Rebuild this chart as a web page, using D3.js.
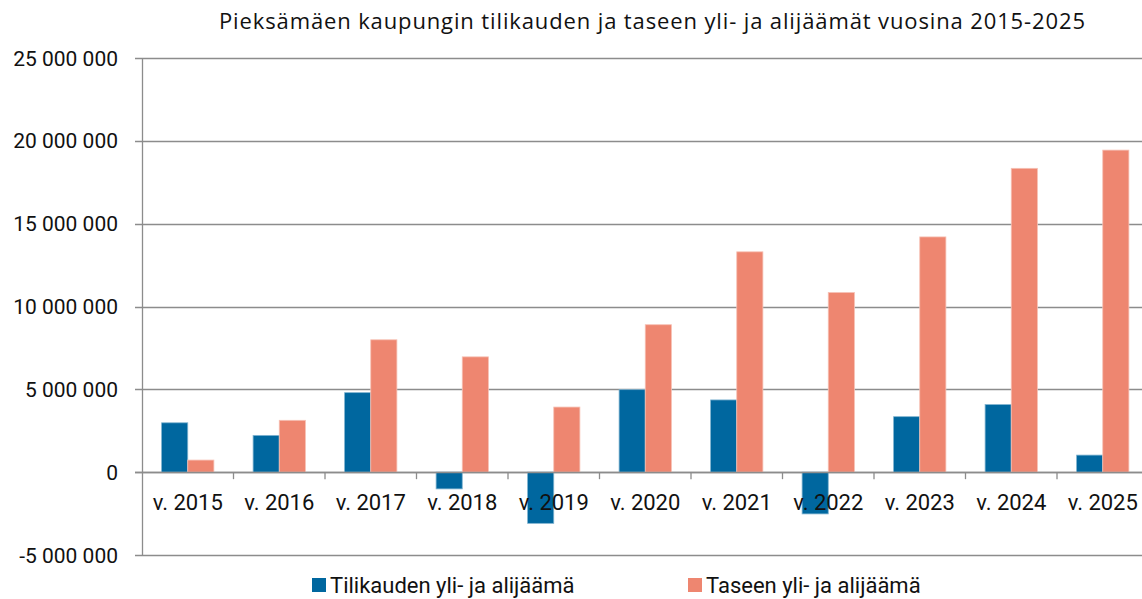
<!DOCTYPE html>
<html lang="fi">
<head>
  <meta charset="utf-8">
  <title>Pieksämäen kaupungin yli- ja alijäämät</title>
  <script src="https://d3js.org/d3.v7.min.js"></script>
  <style>
    html, body { margin: 0; padding: 0; background: #fff; }
    svg { display: block; }
    text { font-family: Roboto, "Liberation Sans", sans-serif; fill: #111; }
    .title { font-family: "Open Sans", sans-serif; }
  </style>
</head>
<body>
  <svg width="1142" height="599"></svg>
  <script>
    // Data
    const years = ["v. 2015", "v. 2016", "v. 2017", "v. 2018", "v. 2019", "v. 2020",
                   "v. 2021", "v. 2022", "v. 2023", "v. 2024", "v. 2025"];
    const tilikausi = [2980000, 2220000, 4800000, -1010000, -3090000, 4980000,
                       4360000, -2520000, 3350000, 4080000, 1030000];
    const tase = [730000, 3130000, 7990000, 6960000, 3930000, 8900000,
                  13300000, 10840000, 14200000, 18340000, 19440000];
    const seriesNames = ["Tilikauden yli- ja alijäämä", "Taseen yli- ja alijäämä"];
    const colors = ["#00679f", "#ee8670"];
    const yTicks = [-5000000, 0, 5000000, 10000000, 15000000, 20000000, 25000000];

    const svg = d3.select("svg");
    const plotL = 142, plotR = 1148.5, plotT = 58, plotB = 555;

    const x = d3.scaleBand().domain(years).range([plotL, plotR]);
    const gap = 1.5; // gap width relative to bar width
    const barW = x.bandwidth() / (2 + gap);
    const y = d3.scaleLinear().domain([-5000000, 25000000]).range([plotB, plotT]);

    const fmt = v => d3.format(",")(v).replace(/,/g, " ").replace("−", "-");

    // title
    svg.append("text")
      .attr("class", "title")
      .attr("x", 652).attr("y", 29)
      .attr("text-anchor", "middle")
      .attr("textLength", 866)
      .attr("lengthAdjust", "spacing")
      .style("font-size", "22px")
      .text("Pieksämäen kaupungin tilikauden ja taseen yli- ja alijäämät vuosina 2015-2025");

    // gridlines
    svg.append("g").selectAll("line").data(yTicks).join("line")
      .attr("x1", plotL - 7).attr("x2", plotR)
      .attr("y1", d => Math.round(y(d)) + 0.5).attr("y2", d => Math.round(y(d)) + 0.5)
      .attr("stroke", "#8c8c8c").attr("stroke-width", 1.3);

    // y axis line
    svg.append("line")
      .attr("x1", plotL + 0.5).attr("x2", plotL + 0.5)
      .attr("y1", plotT).attr("y2", plotB + 1)
      .attr("stroke", "#8c8c8c").attr("stroke-width", 1.3);

    // y labels
    svg.append("g").selectAll("text").data(yTicks).join("text")
      .attr("x", 118).attr("y", d => y(d) + 7.5)
      .attr("text-anchor", "end")
      .style("font-size", "21px")
      .text(fmt);

    // bars
    const series = [tilikausi, tase];
    series.forEach((vals, s) => {
      svg.append("g").selectAll("rect").data(vals).join("rect")
        .attr("x", (d, i) => x(years[i]) + barW * gap / 2 + s * barW)
        .attr("width", barW)
        .attr("y", d => y(Math.max(0, d)))
        .attr("height", d => Math.abs(y(d) - y(0)))
        .attr("fill", colors[s])
        .attr("stroke", s === 0 ? "#7fb3d0" : "#f6c0b4")
        .attr("stroke-width", 0.8);
    });

    // zero line + category ticks
    svg.append("line")
      .attr("x1", plotL - 7).attr("x2", plotR)
      .attr("y1", Math.round(y(0)) + 0.5).attr("y2", Math.round(y(0)) + 0.5)
      .attr("stroke", "#8c8c8c").attr("stroke-width", 1.3);
    svg.append("g").selectAll("line").data(years.slice(1)).join("line")
      .attr("x1", d => x(d)).attr("x2", d => x(d))
      .attr("y1", y(0)).attr("y2", y(0) + 7)
      .attr("stroke", "#8c8c8c").attr("stroke-width", 1.3);

    // x labels
    svg.append("g").selectAll("text").data(years).join("text")
      .attr("x", d => x(d) + x.bandwidth() / 2).attr("y", 510)
      .attr("text-anchor", "middle")
      .style("font-size", "22px")
      .text(d => d);

    // legend
    const legendX = [312, 688];
    const lg = svg.append("g").selectAll("g").data(seriesNames).join("g")
      .attr("transform", (d, i) => `translate(${legendX[i]},578)`);
    lg.append("rect").attr("width", 14).attr("height", 14)
      .attr("fill", (d, i) => colors[i]);
    lg.append("text").attr("x", 18).attr("y", 15)
      .style("font-size", "22px")
      .text(d => d);
  </script>
</body>
</html>
